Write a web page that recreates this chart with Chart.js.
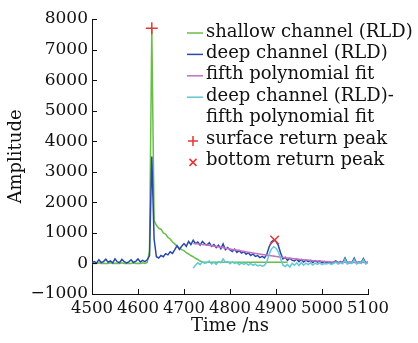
<!DOCTYPE html>
<html><head><meta charset="utf-8">
<script src="https://cdn.jsdelivr.net/npm/chart.js@4"></script>
<style>html,body{margin:0;padding:0;background:#fff}#wrap{width:418px;height:343px}</style>
</head><body><div id="wrap"><canvas id="c" width="418" height="343"></canvas></div>
<script>
const timeNs = [4500,4505,4510,4515,4520,4525,4530,4535,4540,4545,4550,4555,4560,4565,4570,4575,4580,4585,4590,4595,
4600,4605,4610,4615,4620,4625,4630,4635,4640,4645,4650,4655,4660,4665,4670,4675,4680,4685,4690,4695,
4700,4705,4710,4715,4720,4725,4730,4735,4740,4745,4750,4755,4760,4765,4770,4775,4780,4785,4790,4795,
4800,4805,4810,4815,4820,4825,4830,4835,4840,4845,4850,4855,4860,4865,4870,4875,4880,4885,4890,4895,
4900,4905,4910,4915,4920,4925,4930,4935,4940,4945,4950,4955,4960,4965,4970,4975,4980,4985,4990,4995,
5000,5005,5010,5015,5020,5025,5030,5035,5040,5045,5050,5055,5060,5065,5070,5075,5080,5085,5090,5095,5100];

const shallowChannel = [0,10,0,20,0,10,0,0,20,0,10,0,0,20,0,10,0,0,20,0,10,0,20,0,30,
400,7700,1400,1250,1150,1120,1000,960,850,800,700,640,560,500,450,420,350,310,260,220,170,130,80,50,
40,40,40,40,40,40,40,40,40,40,40,40,40,40,40,40,40,40,40,40,40,40,40,40,40,40,40,40,40,40,40,40,40,40,40,40,40];

const deepChannel = [30,60,20,120,30,60,140,40,80,20,150,50,30,130,60,20,50,120,30,70,
150,50,100,60,120,250,3500,800,220,180,260,220,320,280,380,330,450,580,460,560,
650,560,720,620,760,650,700,600,720,640,600,680,560,620,520,600,480,640,450,520,
440,390,470,360,420,340,390,300,350,260,310,230,260,190,230,180,300,540,700,770,
720,590,340,150,200,100,170,110,80,140,60,130,50,110,60,100,30,90,40,80,
20,60,30,50,10,40,80,20,60,30,180,20,40,30,170,20,50,30,160,20,50];

const fitTime = [4720,4740,4760,4780,4800,4820,4840,4860,4880,4900,4920,4940,4960,4980,5000,5020,5040,5060,5080,5100];
const polyFit = [650,620,580,530,470,420,370,320,270,230,190,150,120,90,70,50,40,30,30,30];

const residualStart = 4720;
const residual = [-150,-60,20,-40,60,0,30,80,-20,40,-30,60,20,150,40,60,-10,50,0,30,-40,20,-30,10,-50,0,-60,-20,-80,-50,-90,-60,50,300,470,550,500,380,150,-50,-100,-30,-120,0,-60,20,-70,30,-60,10,-40,20,-50,10,-30,20,-40,0,-20,10,-30,0,40,-20,20,-10,140,-20,10,0,130,-20,20,0,120,-20,20];

const surfacePeak = [{x:4630, y:7700}];
const bottomPeak = [{x:4897, y:770}];

const xTicks = [4500,4600,4700,4800,4900,5000,5100];
const yTicks = [-1000,0,1000,2000,3000,4000,5000,6000,7000,8000];

const legendLabels = ['shallow channel (RLD)','deep channel (RLD)','fifth polynomial fit',['deep channel (RLD)-','fifth polynomial fit'],'surface return peak','bottom return peak'];

const C_GREEN = 'rgb(104,190,72)';
const C_BLUE = 'rgb(42,72,170)';
const C_PINK = 'rgb(196,110,196)';
const C_CYAN = 'rgb(96,200,214)';
const C_RED = 'rgb(232,52,52)';

const toXY = (ts, vs) => vs.map((v,i)=>({x:ts[i], y:v}));
const resTimes = timeNs.slice(timeNs.indexOf(residualStart));

Chart.defaults.font.family = 'DejaVu Serif';
Chart.defaults.font.size = 18;
Chart.defaults.color = '#111';

const overlay = {
  id:'overlay',
  afterDraw(chart){
    const ctx = chart.ctx, xs = chart.scales.x, ys = chart.scales.y;
    const a = chart.chartArea;
    ctx.save();
    ctx.strokeStyle = '#111'; ctx.lineWidth = 1;
    ctx.beginPath();
    yTicks.forEach(v=>{const y = Math.round(ys.getPixelForValue(v))+0.5; ctx.moveTo(a.left, y); ctx.lineTo(a.left+5, y);});
    xTicks.forEach(v=>{const x = Math.round(xs.getPixelForValue(v))+0.5; ctx.moveTo(x, a.bottom); ctx.lineTo(x, a.bottom-5);});
    ctx.stroke();
    // legend
    const colors = [C_GREEN, C_BLUE, C_PINK, C_CYAN, 'plus', 'x'];
    const x0 = 187, x1 = 203, tx = 206;
    let y = 32; const dy = 21.4;
    ctx.font = '18px "DejaVu Serif"'; ctx.textBaseline = 'middle'; ctx.fillStyle = '#111';
    legendLabels.forEach((lab,i)=>{
      const c = colors[i];
      if (c === 'plus') {
        ctx.strokeStyle = C_RED; ctx.lineWidth = 1.5; ctx.beginPath();
        ctx.moveTo(193-5, y+2); ctx.lineTo(193+5, y+2); ctx.moveTo(193, y-3); ctx.lineTo(193, y+7); ctx.stroke();
      } else if (c === 'x') {
        ctx.strokeStyle = C_RED; ctx.lineWidth = 1.5; ctx.beginPath();
        ctx.moveTo(189.5, y-1.5); ctx.lineTo(196.5, y+5.5); ctx.moveTo(196.5, y-1.5); ctx.lineTo(189.5, y+5.5); ctx.stroke();
      } else {
        ctx.strokeStyle = c; ctx.lineWidth = 1.5; ctx.beginPath();
        ctx.moveTo(x0, y+1); ctx.lineTo(x1, y+1); ctx.stroke();
      }
      const lines = Array.isArray(lab) ? lab : [lab];
      lines.forEach(l=>{ ctx.fillText(l, tx, y); y += dy; });
    });
    ctx.restore();
  }
};

new Chart(document.getElementById('c'), {
  type:'line',
  data:{ datasets:[
    {label:'surface return peak', type:'scatter', data:surfacePeak, pointStyle:'cross', pointRadius:6, borderColor:C_RED, backgroundColor:C_RED, borderWidth:1.5, order:0},
    {label:'bottom return peak', type:'scatter', data:bottomPeak, pointStyle:'crossRot', pointRadius:6, borderColor:C_RED, backgroundColor:C_RED, borderWidth:1.5, order:0},
    {label:'deep channel (RLD)-fifth polynomial fit', data:toXY(resTimes, residual), borderColor:C_CYAN, borderWidth:1.5, pointRadius:0, order:1},
    {label:'fifth polynomial fit', data:toXY(fitTime, polyFit), borderColor:C_PINK, borderWidth:1.5, pointRadius:0, cubicInterpolationMode:'monotone', order:2},
    {label:'deep channel (RLD)', data:toXY(timeNs, deepChannel), borderColor:C_BLUE, borderWidth:1.5, pointRadius:0, order:3},
    {label:'shallow channel (RLD)', data:toXY(timeNs, shallowChannel), borderColor:C_GREEN, borderWidth:1.5, pointRadius:0, order:4},
  ]},
  options:{
    responsive:false, animation:false, events:[],
    layout:{padding:{top:19, right:50, bottom:0, left:0}},
    plugins:{legend:{display:false}, tooltip:{enabled:false}},
    scales:{
      x:{type:'linear', min:4500, max:5100,
        afterFit(s){ s.height = 49; },
        afterBuildTicks(s){ s.ticks = xTicks.map(v=>({value:v})); },
        grid:{display:false, drawTicks:false},
        border:{display:true, color:'#111', width:1},
        ticks:{padding:5, maxRotation:0, autoSkip:false, color:'#111', font:{size:16.5}, callback:(v)=>String(v)},
        title:{display:true, text:'Time /ns', padding:{top:0,bottom:6}, color:'#111'}
      },
      y:{type:'linear', min:-1000, max:8000,
        afterFit(s){ s.width = 92; },
        afterBuildTicks(s){ s.ticks = yTicks.map(v=>({value:v})); },
        grid:{display:false, drawTicks:false},
        border:{display:true, color:'#111', width:1},
        ticks:{padding:4, autoSkip:false, color:'#111', font:{size:17}, callback:(v)=> String(v).replace('-', '\u2212')},
        title:{display:true, text:'Amplitude', padding:{top:6,bottom:0}, color:'#111'}
      }
    }
  },
  plugins:[overlay]
});
</script></body></html>
